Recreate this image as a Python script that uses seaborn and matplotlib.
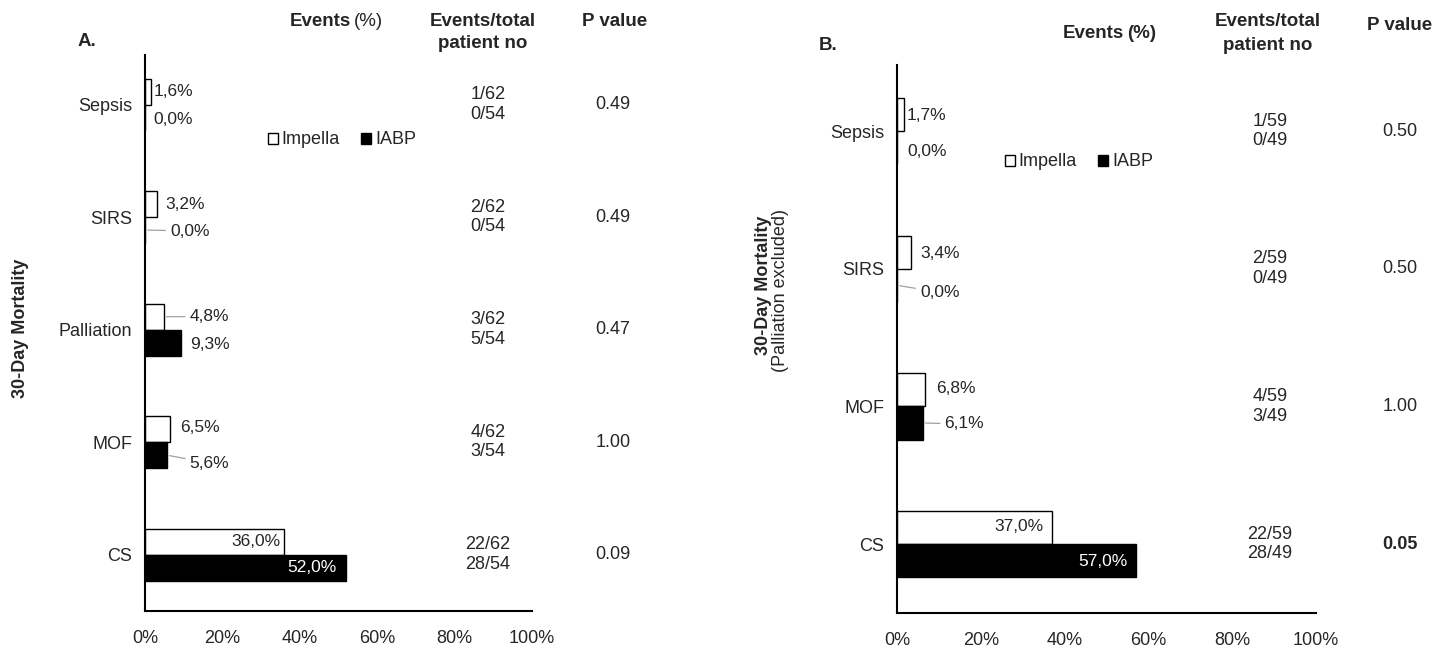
import matplotlib
matplotlib.use("Agg")
import matplotlib.pyplot as plt
import matplotlib.transforms as mtrans
import seaborn as sns
import pandas as pd
from matplotlib.patches import Patch

# ---------------- data ----------------
cats_a = ["Sepsis", "SIRS", "Palliation", "MOF", "CS"]
impella_a = [1.6, 3.2, 4.8, 6.5, 36.0]
iabp_a = [0.0, 0.0, 9.3, 5.6, 52.0]
frac_imp_a = ["1/62", "2/62", "3/62", "4/62", "22/62"]
frac_iabp_a = ["0/54", "0/54", "5/54", "3/54", "28/54"]
pval_a = ["0.49", "0.49", "0.47", "1.00", "0.09"]

cats_b = ["Sepsis", "SIRS", "MOF", "CS"]
impella_b = [1.7, 3.4, 6.8, 37.0]
iabp_b = [0.0, 0.0, 6.1, 57.0]
frac_imp_b = ["1/59", "2/59", "4/59", "22/59"]
frac_iabp_b = ["0/49", "0/49", "3/49", "28/49"]
pval_b = ["0.50", "0.50", "1.00", "0.05"]
bold_p_b = [False, False, False, True]

groups = ["Impella", "IABP"]
xticks = [0, 20, 40, 60, 80, 100]

sns.set_theme(style="white")
plt.rcParams['font.family'] = ['Liberation Sans', 'DejaVu Sans']
TXT = "#262626"
FS = 13

W, H = 1445, 650
fig = plt.figure(figsize=(W / 100, H / 100), dpi=100)


def fx(px):
    return px / W


def fy(py):
    return 1 - py / H


def make_df(cats, imp, iab):
    return pd.DataFrame({
        "cat": cats + cats,
        "value": imp + iab,
        "group": ["Impella"] * len(cats) + ["IABP"] * len(cats),
    })


def panel(left, right, top, bottom, cats, imp, iab, width, ylim, label_specs):
    ax = fig.add_axes([fx(left), fy(bottom), fx(right - left), (bottom - top) / H])
    df = make_df(cats, imp, iab)
    sns.barplot(data=df, x="value", y="cat", hue="group", order=cats,
                hue_order=groups, palette={"Impella": "white", "IABP": "black"},
                edgecolor="black", linewidth=1.0, width=width, orient="h",
                legend=False, ax=ax)
    ax.set_xlim(0, 100)
    ax.set_ylim(*ylim)
    ax.set_xticks(xticks)
    ax.set_xticklabels([f"{t}%" for t in xticks], fontsize=FS, color=TXT)
    ax.tick_params(axis="x", direction="out", length=5, width=1, color="black", pad=9)
    ax.tick_params(axis="y", direction="out", length=4, width=1, color="black", pad=5)
    for t in ax.get_yticklabels():
        t.set_fontsize(FS)
        t.set_color(TXT)
    ax.set_xlabel("")
    ax.set_ylabel("")
    for s in ["top", "right"]:
        ax.spines[s].set_visible(False)
    for s in ["left", "bottom"]:
        ax.spines[s].set_color("black")
        ax.spines[s].set_linewidth(1.5)
    ax.grid(False)

    vals = [imp, iab]
    for gi, cont in enumerate(ax.containers):
        for ci, bar in enumerate(cont.patches):
            v = vals[gi][ci]
            yc = bar.get_y() + bar.get_height() / 2
            xe = bar.get_x() + bar.get_width()
            dx, dy, leader, inside = label_specs[gi][ci]
            txt = f"{v:.1f}%".replace(".", ",")
            col = "white" if (inside and gi == 1) else TXT
            ha = "right" if inside else "left"
            kw = dict(xy=(xe, yc), xytext=(dx, dy), textcoords="offset pixels",
                      ha=ha, va="center", fontsize=FS - 0.5, color=col)
            if leader:
                kw["arrowprops"] = dict(arrowstyle="-", color="#a0a0a0", lw=0.9,
                                        shrinkA=1, shrinkB=2)
            ax.annotate(txt, **kw)
    return ax


# label specs: (dx px, dy px, leader, inside)
spec_a = [
    [(2, 0, False, False), (8, 0, False, False), (26, 0, True, False),
     (10, 2, False, False), (-4, 0, False, True)],
    [(8, -2, False, False), (25, -1, True, False), (9, -2, False, False),
     (23, -8, True, False), (-10, 0, False, True)],
]
spec_b = [
    [(3, -1, False, False), (9, -1, False, False), (11, 1, False, False),
     (-9, 1, False, True)],
    [(10, -4, False, False), (23, -7, True, False), (22, -1, True, False),
     (-8, -1, False, True)],
]

ax_a = panel(145, 532, 55, 611, cats_a, impella_a, iabp_a, 0.46,
             (4.5, -0.44), spec_a)
ax_b = panel(897, 1316, 65, 613, cats_b, impella_b, iabp_b, 0.48,
             (3.5, -0.48), spec_b)


def columns(ax, cats, fi, fb, pv, xf, xp, boldp=None):
    tr = mtrans.blended_transform_factory(fig.transFigure, ax.transData)
    for i in range(len(cats)):
        fig.text(fx(xf), i, fi[i] + "\n" + fb[i], transform=tr, ha="center", va="center",
                 fontsize=FS, color=TXT, linespacing=1.2)
        fig.text(fx(xp), i, pv[i], transform=tr, ha="center", va="center",
                 fontsize=FS, color=TXT,
                 fontweight="bold" if (boldp and boldp[i]) else "normal")


columns(ax_a, cats_a, frac_imp_a, frac_iabp_a, pval_a, 488, 613)
columns(ax_b, cats_b, frac_imp_b, frac_iabp_b, pval_b, 1270, 1400, bold_p_b)

# headers
HFS = 13.5
hdr = dict(fontsize=HFS, fontweight="bold", color=TXT, va="center")


def events_header(xc, yc, bold_pct):
    fig.text(fx(xc + 18), fy(yc), "Events", ha="right", **hdr)
    fig.text(fx(xc + 21), fy(yc), "(%)", ha="left", fontsize=HFS, color=TXT, va="center",
             fontweight="bold" if bold_pct else "normal")


events_header(333, 21, False)
fig.text(fx(483), fy(21), "Events/total", ha="center", **hdr)
fig.text(fx(483), fy(44), "patient no", ha="center", **hdr)
fig.text(fx(615), fy(21), "P value", ha="center", **hdr)
fig.text(fx(87), fy(42), "A.", ha="center", **hdr)

events_header(1106, 33, True)
fig.text(fx(1268), fy(22), "Events/total", ha="center", **hdr)
fig.text(fx(1268), fy(45), "patient no", ha="center", **hdr)
fig.text(fx(1400), fy(25), "P value", ha="center", **hdr)
fig.text(fx(828), fy(46), "B.", ha="center", **hdr)

# y labels
fig.text(fx(21), fy(328), "30-Day Mortality", rotation=90, fontsize=FS, fontweight="bold",
         color=TXT, ha="center", va="center")
fig.text(fx(763), fy(285), "30-Day Mortality", rotation=90, fontsize=FS, fontweight="bold",
         color=TXT, ha="center", va="center")
fig.text(fx(781), fy(290), "(Palliation excluded)", rotation=90, fontsize=FS,
         color=TXT, ha="center", va="center")

# legends
handles = [Patch(facecolor="white", edgecolor="black", label="Impella"),
           Patch(facecolor="black", edgecolor="black", label="IABP")]
for cx, cy in [(342, 140), (1079, 162)]:
    fig.legend(handles=handles, loc="center", bbox_to_anchor=(fx(cx), fy(cy)), ncol=2,
               frameon=False, handlelength=0.55, handleheight=0.55, handletextpad=0.2,
               columnspacing=1.2, prop={"size": FS}, labelcolor=TXT)

fig.savefig("out.png", dpi=100, facecolor="white")
